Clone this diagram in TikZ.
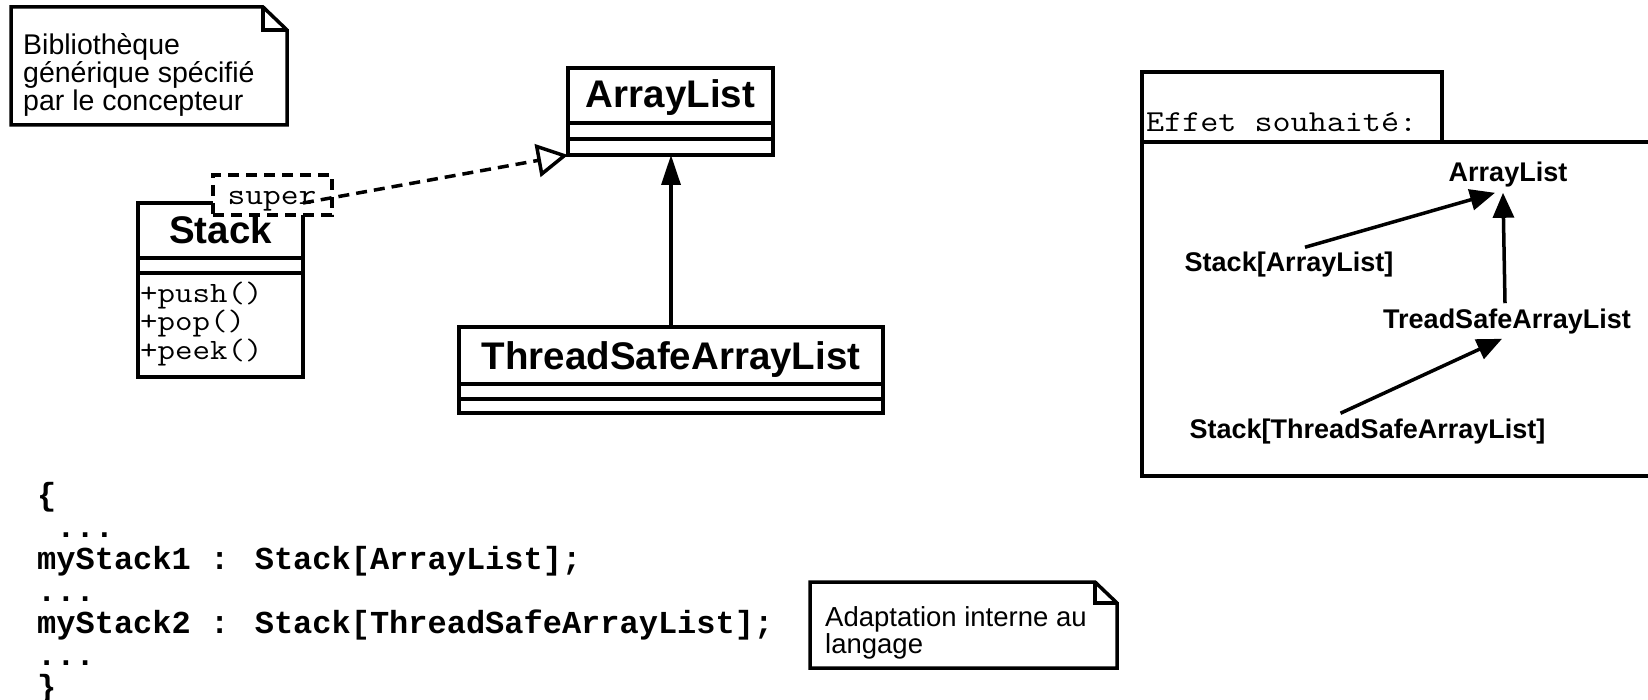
\documentclass[tikz,border=0pt]{standalone}
\usepackage{fontspec}
\setmainfont{Liberation Sans}
\newfontfamily\codefont{Liberation Mono}
\newfontfamily\umlmono{Latin Modern Mono}[FakeStretch=1.15]
\usetikzlibrary{arrows.meta}
\newcommand\tightlines{\lineskiplimit=-100pt\relax}

\tikzset{
  ln/.style={line width=3.5pt},
  dashline/.style={line width=3.5pt, dash pattern=on 11pt off 7pt},
  classbox/.style={draw, line width=3.5pt, fill=white, inner sep=0pt, outer sep=0pt, anchor=north west},
  cname/.style={font=\fontsize{38.5}{38}\selectfont\bfseries, anchor=base, inner sep=0pt},
  ops/.style={font=\umlmono\fontsize{29.5}{28.5}\selectfont\tightlines, align=left, anchor=north west, inner sep=0pt},
  notetext/.style={align=left, anchor=north west, inner sep=0pt},
  code/.style={font=\codefont\bfseries\fontsize{32}{32}\selectfont, align=left, anchor=north west, inner sep=0pt},
  lbl/.style={font=\fontsize{27}{27}\selectfont\bfseries, anchor=base, inner sep=5pt},
  filledtip/.style={-{Triangle[length=30pt, width=19pt]}},
  smalltip/.style={-{Triangle[length=25pt, width=21pt]}},
  realtip/.style={-{Triangle[open, length=31pt, width=33pt, fill=white]}},
}

\begin{document}
\begin{tikzpicture}[x=1pt, y=-1pt]
  \fill[white] (0,0) rectangle (1648,700);
  \useasboundingbox (0,0) rectangle (1648,700);

  % note: generic library
  \draw[ln, fill=white] (11,7) -- (263,7) -- (287,30) -- (287,125) -- (11,125) -- cycle;
  \draw[ln] (263,7) -- (263,30) -- (287,30);
  \node[notetext, font=\fontsize{28.5}{28}\selectfont] (note1) at (23,33) {Bibliothèque\\générique spécifié\\par le concepteur};

  % class ArrayList
  \node[classbox, minimum width=205pt, minimum height=87pt] (al) at (568,68) {};
  \draw[ln] (568,123) -- (773,123);
  \draw[ln] (568,139) -- (773,139);
  \node[cname] (alname) at (670.5,108) {ArrayList};

  % class ThreadSafeArrayList
  \node[classbox, minimum width=424pt, minimum height=86pt] (tsal) at (459,327) {};
  \draw[ln] (459,384) -- (883,384);
  \draw[ln] (459,399) -- (883,399);
  \node[cname] (tsalname) at (671,369) {ThreadSafeArrayList};

  % class Stack
  \node[classbox, minimum width=165pt, minimum height=174pt] (stack) at (138,203) {};
  \draw[ln] (138,258) -- (303,258);
  \draw[ln] (138,273) -- (303,273);
  \node[cname] (stackname) at (220.5,244) {Stack};
  \node[ops] (stackops) at (140,281.5) {+push()\\+pop()\\+peek()};

  % template parameter
  \node[draw, dashline, fill=white, minimum width=119pt, minimum height=40pt,
        inner sep=0pt, outer sep=0pt, anchor=north west] (superbox) at (213,175) {};
  \node[font=\umlmono\fontsize{30}{30}\selectfont, anchor=base, inner sep=0pt] (supertext) at (272,205) {super};

  % relations
  \draw[dashline, realtip] (stack.north east) -- (al.south west);
  \draw[ln, filledtip] (tsal.north) -- (tsal.north |- al.south);

  % code excerpt
  \node[code] (codeblock) at (37,482) {\{\\\hspace*{0.6em}...\\myStack1 : Stack[ArrayList];\\...\\myStack2 : Stack[ThreadSafeArrayList];\\...\\\}};

  % note: language adaptation
  \draw[ln, fill=white] (810,582) -- (1095,582) -- (1117,603) -- (1117,668) -- (810,668) -- cycle;
  \draw[ln] (1095,582) -- (1095,603) -- (1117,603);
  \node[notetext, font=\fontsize{27.5}{27}\selectfont] (note2) at (825,606) {Adaptation interne au\\langage};

  % desired effect frame
  \draw[ln] (1142,72) rectangle (1442,142);
  \draw[ln] (1660,142) -- (1142,142) -- (1142,476) -- (1660,476);
  \node[font=\umlmono\fontsize{30.5}{30}\selectfont, anchor=base west, inner sep=0pt] (effet) at (1146,132) {Effet souhaité:};

  \node[lbl] (ral) at (1508,182) {ArrayList};
  \node[lbl] (rsal) at (1289,272) {Stack[ArrayList]};
  \node[lbl] (rtsal) at (1507,328) {TreadSafeArrayList};
  \node[lbl] (rstsal) at (1367.5,438) {Stack[ThreadSafeArrayList]};

  \draw[ln, smalltip] ([xshift=16pt]rsal.north) -- ([xshift=-13pt]ral.south);
  \draw[ln, smalltip] ([xshift=-2pt]rtsal.north) -- ([xshift=-5pt]ral.south);
  \draw[ln, smalltip] ([xshift=-27pt]rstsal.north) -- ([xshift=-5pt]rtsal.south);
\end{tikzpicture}
\end{document}
